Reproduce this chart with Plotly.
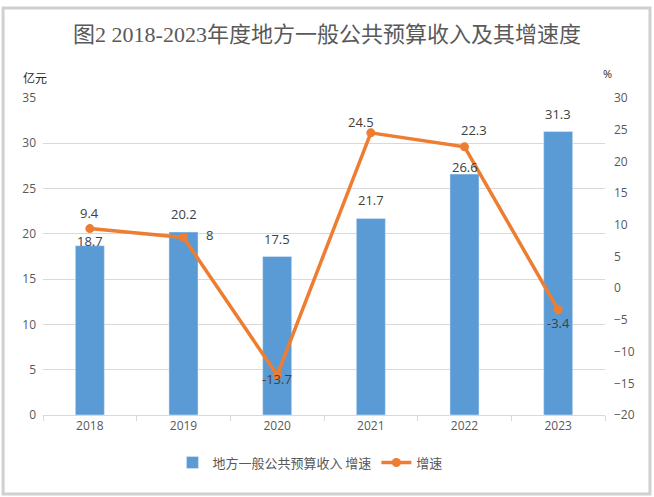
import plotly.graph_objects as go

# chart data
years = ["2018", "2019", "2020", "2021", "2022", "2023"]
revenue = [18.7, 20.2, 17.5, 21.7, 26.6, 31.3]   # 亿元
growth = [9.4, 8, -13.7, 24.5, 22.3, -3.4]       # %

# label offsets (px)
bar_shift = [5, 18, 18, 18, 7, 18]
line_shift = [(0, 16), (26, 2), (0, -4), (-10, 11), (9, 17), (0, -13)]

BLUE = "#5B9BD5"
ORANGE = "#ED7D31"
GRID = "#d9d9d9"
TXT = "#595959"
LBL = "#404040"

fig = go.Figure()

fig.add_trace(go.Bar(
    x=years, y=revenue,
    name="地方一般公共预算收入 增速",
    marker=dict(color=BLUE),
    yaxis="y",
))

fig.add_trace(go.Scatter(
    x=years, y=growth,
    name="增速",
    mode="lines+markers",
    line=dict(color=ORANGE, width=3.5),
    marker=dict(color=ORANGE, size=9),
    yaxis="y2",
))

# data labels, x given as category index so the axis keeps its range
annotations = []
for i, (v, s) in enumerate(zip(revenue, bar_shift)):
    annotations.append(dict(x=i, y=v, xref="x", yref="y", text=str(v),
                            showarrow=False, yshift=s,
                            font=dict(size=13, color=LBL)))
for i, (v, (dx, dy)) in enumerate(zip(growth, line_shift)):
    annotations.append(dict(x=i, y=v, xref="x", yref="y2", text=str(v),
                            showarrow=False, xshift=dx, yshift=dy,
                            font=dict(size=13, color=LBL)))

# axis unit labels
annotations.append(dict(x=-0.014, y=1.066, xref="paper", yref="paper", text="亿元",
                        xanchor="center", yanchor="middle", showarrow=False,
                        font=dict(size=12, color="#262626", family="Noto Sans CJK SC")))
annotations.append(dict(x=1.004, y=1.076, xref="paper", yref="paper", text="%",
                        xanchor="center", yanchor="middle", showarrow=False,
                        font=dict(size=11, color="#262626")))

fig.update_layout(
    width=654, height=497,
    margin=dict(l=43, r=49, t=98, b=82),
    paper_bgcolor="white",
    plot_bgcolor="white",
    font=dict(family="Open Sans, Noto Sans CJK SC", size=12, color=TXT),
    title=dict(
        text="图2 2018-2023年度地方一般公共预算收入及其增速度",
        x=0.5, xanchor="center", y=0.93, yanchor="middle",
        font=dict(family="Liberation Serif, Noto Sans CJK SC", size=22, color=TXT),
    ),
    bargap=0.69,
    showlegend=True,
    legend=dict(
        orientation="h", x=0.475, xanchor="center", y=-0.15, yanchor="middle",
        font=dict(size=13, color=TXT, family="Noto Sans CJK SC"),
        itemwidth=30, tracegroupgap=0,
    ),
    xaxis=dict(
        type="category",
        range=[-0.5, 5.5],
        showline=True, linecolor=GRID, linewidth=1,
        ticks="outside", tickson="boundaries", ticklen=5, tickcolor=GRID,
        showgrid=False,
        tickfont=dict(size=12, color=TXT),
    ),
    yaxis=dict(
        range=[0, 35], dtick=5,
        showgrid=True, gridcolor=GRID, gridwidth=1,
        zeroline=False, showline=False,
        tickfont=dict(size=12, color=TXT),
        ticklabelstandoff=6,
    ),
    yaxis2=dict(
        range=[-20, 30], dtick=5,
        overlaying="y", side="right",
        showgrid=False, zeroline=False, showline=False,
        tickfont=dict(size=12, color=TXT),
        ticklabelstandoff=8,
    ),
    annotations=annotations,
    shapes=[dict(type="rect", xref="paper", yref="paper",
                 x0=-0.071, x1=1.080, y0=-0.249, y1=1.284,
                 line=dict(color="#d0d0d0", width=3), layer="below")],
)

# drop the page's default body margin so the figure sits at the window corner
fig.write_html("out.html", config={"displayModeBar": False},
               post_script="document.body.style.margin='0';")
